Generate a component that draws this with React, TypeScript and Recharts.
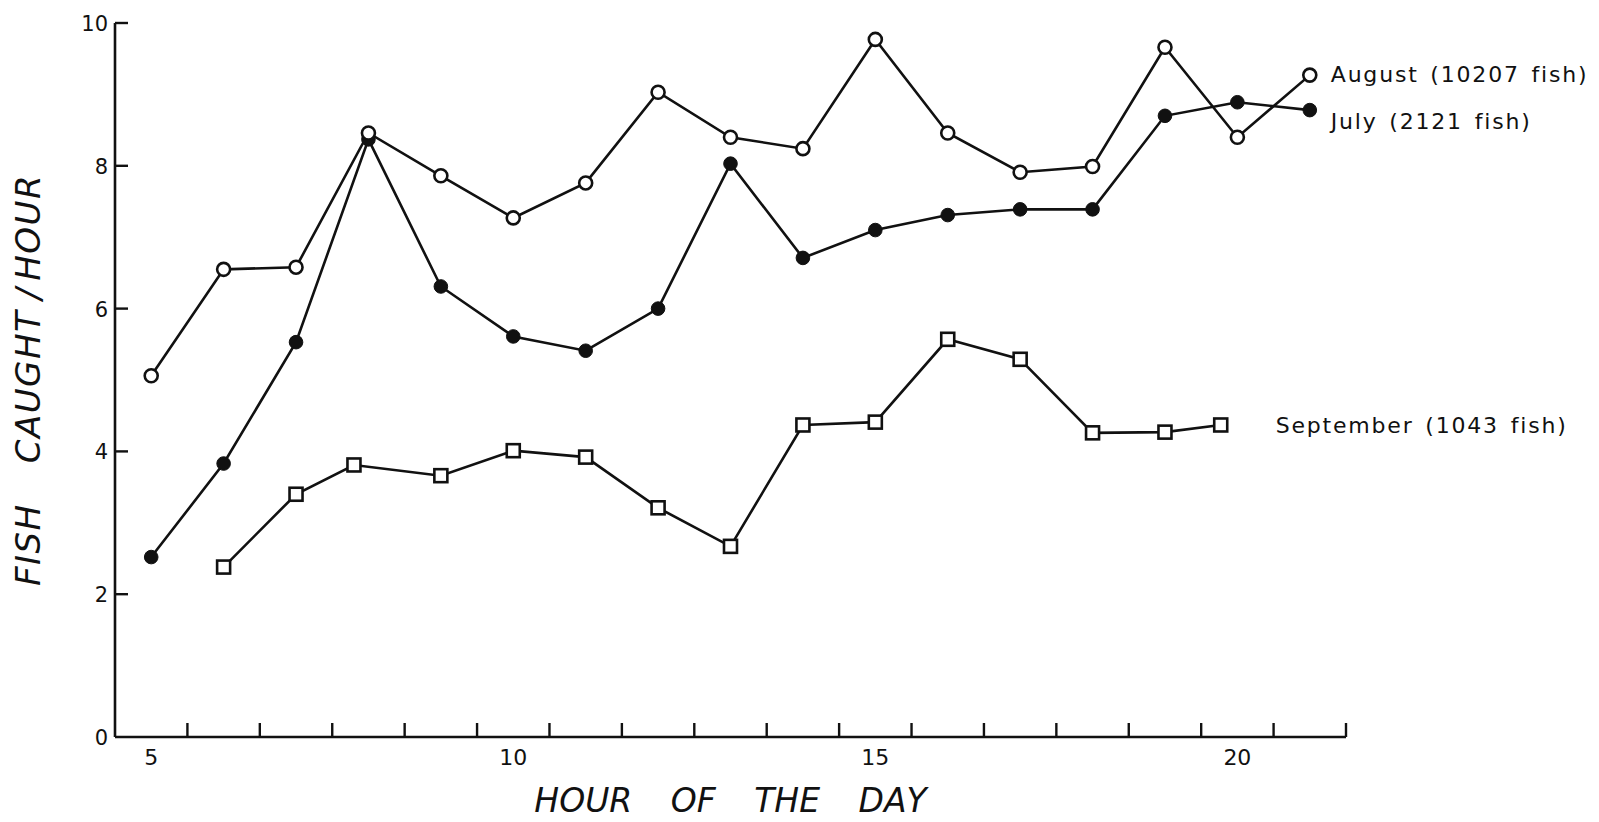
import React from 'react';
import { LineChart, Line, XAxis, YAxis } from 'recharts';

// ---- data ----
const hours = [5, 6, 7, 8, 9, 10, 11, 12, 13, 14, 15, 16, 17, 18, 19, 20, 21];
const augustCatch = [5.06, 6.55, 6.58, 8.46, 7.86, 7.27, 7.76, 9.03, 8.4, 8.24, 9.77, 8.46, 7.91, 7.99, 9.66, 8.4, 9.27];
const julyCatch = [2.52, 3.83, 5.53, 8.37, 6.31, 5.61, 5.41, 6.0, 8.03, 6.71, 7.1, 7.31, 7.39, 7.39, 8.7, 8.89, 8.78];
const septemberHours = [6, 7, 7.8, 9, 10, 11, 12, 13, 14, 15, 16, 17, 18, 19, 19.77];
const septemberCatch = [2.38, 3.4, 3.81, 3.66, 4.01, 3.92, 3.21, 2.67, 4.37, 4.41, 5.57, 5.29, 4.26, 4.27, 4.37];

const xLabelTicks = [5, 10, 15, 20];
const xMinorTicks = [5.5, 6.5, 7.5, 8.5, 9.5, 10.5, 11.5, 12.5, 13.5, 14.5, 15.5, 16.5, 17.5, 18.5, 19.5, 20.5, 21.5];
const yTicks = [0, 2, 4, 6, 8, 10];

const augustLabel = 'August (10207 fish)';
const julyLabel = 'July (2121 fish)';
const septemberLabel = 'September (1043 fish)';
const xTitle = 'HOUR OF THE DAY';
const yTitleWords = ['FISH', 'CAUGHT', '/', 'HOUR'];

const augustData = hours.map((h, i) => ({ hour: h, value: augustCatch[i] }));
const julyData = hours.map((h, i) => ({ hour: h, value: julyCatch[i] }));
const septemberData = septemberHours.map((h, i) => ({ hour: h, value: septemberCatch[i] }));

const INK = '#111';
const FONT = '"DejaVu Sans", "Liberation Sans", sans-serif';

const OpenCircle = (props: any) => {
  const { cx, cy, index } = props;
  if (cx == null || cy == null) return <g key={`oc-${index}`} />;
  return <circle key={`oc-${index}`} cx={cx} cy={cy} r={6.5} fill="#fff" stroke={INK} strokeWidth={2.6} />;
};
const FilledCircle = (props: any) => {
  const { cx, cy, index } = props;
  if (cx == null || cy == null) return <g key={`fc-${index}`} />;
  return <circle key={`fc-${index}`} cx={cx} cy={cy} r={6.8} fill={INK} stroke={INK} strokeWidth={1} />;
};
const OpenSquare = (props: any) => {
  const { cx, cy, index } = props;
  if (cx == null || cy == null) return <g key={`sq-${index}`} />;
  return <rect key={`sq-${index}`} x={cx - 6.5} y={cy - 6.5} width={13} height={13} fill="#fff" stroke={INK} strokeWidth={2.6} />;
};

const XTick = (props: any) => {
  const { x, y, payload } = props;
  const v = payload.value;
  if (xLabelTicks.includes(v)) {
    return (
      <text x={x} y={y + 28} textAnchor="middle" fontSize={22} fontFamily={FONT} fill={INK}>
        {v}
      </text>
    );
  }
  return <line x1={x} y1={y} x2={x} y2={y - 14} stroke={INK} strokeWidth={2.4} />;
};

const YTick = (props: any) => {
  const { x, y, payload } = props;
  const v = payload.value;
  return (
    <g>
      {v > 0 && <line x1={x} y1={y} x2={x + 13} y2={y} stroke={INK} strokeWidth={2.4} />}
      <text x={x - 7} y={y + 8} textAnchor="end" fontSize={21} fontFamily={FONT} fill={INK}>
        {v}
      </text>
    </g>
  );
};

const seriesLabel = (text: string, n: number, dx: number, dy: number) => (props: any) => {
  const { x, y, index } = props;
  if (index !== n - 1) return null;
  return (
    <text x={x + dx} y={y + dy} fontSize={22} fontFamily={FONT} fill={INK} letterSpacing={1.8} wordSpacing={3}>
      {text}
    </text>
  );
};

const XTitle = (props: any) => {
  const vb = props.viewBox || { x: 115, y: 737, width: 1231, height: 40 };
  return (
    <text
      x={vb.x + vb.width / 2}
      y={vb.y + 75}
      textAnchor="middle"
      fontSize={33}
      fontStyle="italic"
      fontFamily={FONT}
      fill={INK}
      wordSpacing={28}
    >
      {xTitle}
    </text>
  );
};

const YTitle = (props: any) => {
  const vb = props.viewBox || { x: 0, y: 23, width: 115, height: 714 };
  const cx = vb.x + 40;
  const cy = vb.y + vb.height / 2;
  const gaps = [0, 40, 10, 6];
  return (
    <text
      x={cx}
      y={cy}
      transform={`rotate(-90, ${cx}, ${cy})`}
      textAnchor="middle"
      fontSize={34}
      fontStyle="italic"
      fontFamily={FONT}
      fill={INK}
      letterSpacing={1.5}
    >
      {yTitleWords.map((w, i) => (
        <tspan key={w} dx={gaps[i]}>
          {w}
        </tspan>
      ))}
    </text>
  );
};

export default function App() {
  return (
    <div style={{ position: 'absolute', left: 0, top: 0, background: '#fff' }}>
      <LineChart width={1599} height={822} margin={{ top: 23, right: 253, bottom: 45, left: 0 }}>
        <XAxis
          dataKey="hour"
          type="number"
          domain={[4.5, 21.5]}
          ticks={[...xLabelTicks, ...xMinorTicks].sort((a, b) => a - b)}
          interval={0}
          allowDataOverflow
          tickLine={false}
          tickSize={0}
          tickMargin={0}
          height={40}
          axisLine={{ stroke: INK, strokeWidth: 2.6 }}
          tick={<XTick />}
          label={{ content: <XTitle /> }}
        />
        <YAxis
          type="number"
          domain={[0, 10]}
          ticks={yTicks}
          interval={0}
          width={115}
          tickLine={false}
          tickSize={0}
          tickMargin={0}
          axisLine={{ stroke: INK, strokeWidth: 2.6 }}
          tick={<YTick />}
          label={{ content: <YTitle /> }}
        />
        <Line
          data={septemberData}
          dataKey="value"
          stroke={INK}
          strokeWidth={2.6}
          dot={OpenSquare}
          activeDot={false}
          isAnimationActive={false}
          label={seriesLabel(septemberLabel, septemberData.length, 55, 8)}
        />
        <Line
          data={julyData}
          dataKey="value"
          stroke={INK}
          strokeWidth={2.6}
          dot={FilledCircle}
          activeDot={false}
          isAnimationActive={false}
          label={seriesLabel(julyLabel, julyData.length, 21, 19)}
        />
        <Line
          data={augustData}
          dataKey="value"
          stroke={INK}
          strokeWidth={2.6}
          dot={OpenCircle}
          activeDot={false}
          isAnimationActive={false}
          label={seriesLabel(augustLabel, augustData.length, 21, 7)}
        />
      </LineChart>
    </div>
  );
}
